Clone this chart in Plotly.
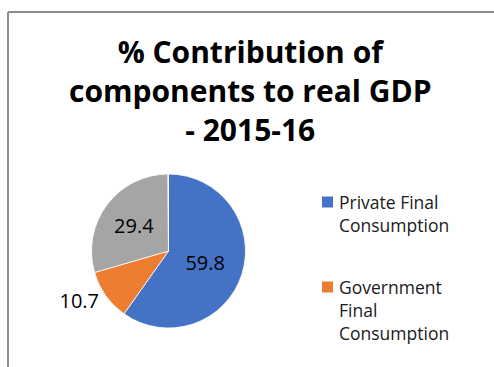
import plotly.graph_objects as go

labels = ["Private Final Consumption", "Government Final Consumption",
          "Gross Fixed Capital Formation", "Others"]
values = [59.8, 10.7, 29.4, 0.1]
colors = ["#4472C4", "#ED7D31", "#A5A5A5", "#FFC000"]
title_lines = ["% Contribution of", "components to real GDP", "- 2015-16"]
legend_lines = [["Private Final", "Consumption"], ["Government", "Final", "Consumption"]]

W, H = 494, 367
FONT = "Open Sans"

fig = go.Figure(go.Pie(
    labels=labels, values=values, sort=False, direction="clockwise", rotation=0,
    marker=dict(colors=colors, line=dict(color="white", width=0.8)),
    texttemplate=["%{value}", "%{value}", "%{value}", ""],
    textposition=["inside", "outside", "inside", "none"],
    insidetextorientation="horizontal",
    textfont=dict(family=FONT, size=20, color="black"),
    domain=dict(x=[91 / W, 246 / W], y=[(H - 328) / H, (H - 174) / H]),
    showlegend=False, hoverinfo="label+value",
))

anns = [dict(text="<br>".join("<b>" + t + "</b>" for t in title_lines),
             x=250 / W, y=1 - 90 / H, xref="paper", yref="paper",
             showarrow=False, xanchor="center", yanchor="middle",
             font=dict(family=FONT, size=30, color="black"))]
shapes = [
    dict(type="line", xref="paper", yref="paper", x0=8 / W, x1=1.2, y0=1 - 12 / H, y1=1 - 12 / H,
         line=dict(color="#8C8C8C", width=2)),
    dict(type="line", xref="paper", yref="paper", x0=8 / W, x1=8 / W, y0=1 - 12 / H, y1=-0.2,
         line=dict(color="#8C8C8C", width=2)),
]
legend_top = [202, 287]
for i, lines in enumerate(legend_lines):
    yc = legend_top[i]
    shapes.append(dict(type="rect", xref="paper", yref="paper",
                       x0=322 / W, x1=333 / W, y0=1 - (yc + 5.5) / H, y1=1 - (yc - 5.5) / H,
                       fillcolor=colors[i], line=dict(width=0)))
    for j, t in enumerate(lines):
        anns.append(dict(text=t, x=337 / W, y=1 - (yc + 23 * j) / H, xref="paper", yref="paper",
                         showarrow=False, xanchor="left", yanchor="middle",
                         font=dict(family=FONT, size=17.5, color="#1a1a1a")))

fig.update_layout(width=W, height=H, margin=dict(l=0, r=0, t=0, b=0),
                  paper_bgcolor="white", plot_bgcolor="white",
                  annotations=anns, shapes=shapes)
fig.write_html("out.html")
